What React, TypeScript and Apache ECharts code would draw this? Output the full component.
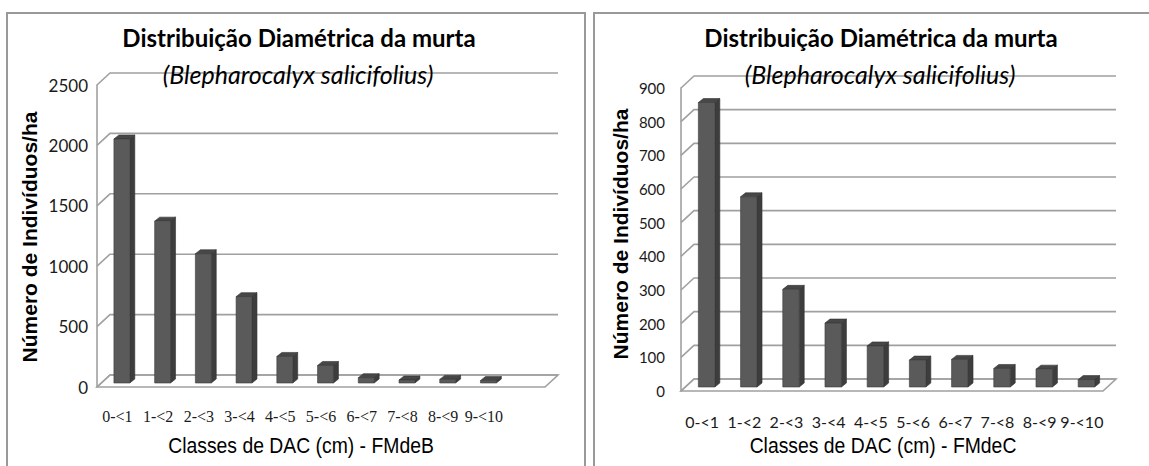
import React, { useEffect, useRef } from 'react';
import * as echarts from 'echarts';

// ---------- data ----------
const categoriesB = ['0-<1', '1-<2', '2-<3', '3-<4', '4-<5', '5-<6', '6-<7', '7-<8', '8-<9', '9-<10', ''];
const valuesB = [2020, 1340, 1070, 715, 220, 145, 44, 25, 30, 20];
const ticksB = [0, 500, 1000, 1500, 2000, 2500];

const categoriesC = ['0-<1', '1-<2', '2-<3', '3-<4', '4-<5', '5-<6', '6-<7', '7-<8', '8-<9', '9-<10'];
const valuesC = [845, 565, 290, 190, 122, 80, 82, 55, 53, 22];
const ticksC = [0, 100, 200, 300, 400, 500, 600, 700, 800, 900];

const titleText = 'Distribuição Diamétrica da murta';
const subtitleText = '(Blepharocalyx salicifolius)';
const yTitle = 'Número de Indivíduos/ha';
const xTitleB = 'Classes de DAC (cm) - FMdeB';
const xTitleC = 'Classes de DAC (cm) - FMdeC';

// ---------- 3D look ----------
const DX = 13;
const DY = 12;
const OX = 4.5;
const OY = 4;
const BD = 5;
const BDY = 4;
const GRID_COLOR = '#a0a0a0';

function wallRender(params: any, api: any) {
  const cs = params.coordSys;
  const v = api.value(1);
  const y = api.coord([0, v])[1];
  const x0 = cs.x;
  const x1 = cs.x + cs.width;
  const children: any[] = [
    {
      type: 'polyline',
      shape: { points: [[x0, y], [x0 + DX, y - DY], [x1 + DX, y - DY]] },
      style: { stroke: GRID_COLOR, lineWidth: 1.6, fill: 'none' },
    },
  ];
  if (v === 0) {
    children.push({
      type: 'polygon',
      shape: { points: [[x0, y], [x0 + DX, y - DY], [x1 + DX, y - DY], [x1, y]] },
      style: { stroke: GRID_COLOR, lineWidth: 1.6, fill: 'none' },
    });
  }
  return { type: 'group', children };
}

function barRender(params: any, api: any) {
  const i = api.value(0);
  const v = api.value(1);
  const base = api.coord([i, 0]);
  const top = api.coord([i, v]);
  const band = api.size([1, 0])[0];
  const bw = band * 0.39;
  const cx = base[0] + OX;
  const xl = cx - bw / 2;
  const xr = cx + bw / 2;
  const yb = base[1] - OY;
  const yt = top[1] - OY;
  return {
    type: 'group',
    children: [
      {
        type: 'polygon',
        shape: { points: [[xr, yt], [xr + BD, yt - BDY], [xr + BD, yb - BDY], [xr, yb]] },
        style: { fill: '#3d3d3d', stroke: '#333', lineWidth: 0.6 },
      },
      {
        type: 'polygon',
        shape: { points: [[xl, yt], [xl + BD, yt - BDY], [xr + BD, yt - BDY], [xr, yt]] },
        style: { fill: '#474747', stroke: '#333', lineWidth: 0.6 },
      },
      {
        type: 'polygon',
        shape: { points: [[xl, yt], [xr, yt], [xr, yb], [xl, yb]] },
        style: { fill: '#5a5a5a', stroke: '#3a3a3a', lineWidth: 0.6 },
      },
    ],
  };
}

export default function App() {
  const ref = useRef<HTMLDivElement>(null);

  useEffect(() => {
    if (!ref.current) return;
    const chart = echarts.init(ref.current, undefined, { renderer: 'svg' });

    const sans = 'Lato, "Open Sans", sans-serif';
    const arial = '"Liberation Sans", Arial, sans-serif';
    const plain = (v: number) => String(v);

    const option: any = {
      animation: false,
      backgroundColor: '#ffffff',
      grid: [
        { left: 97, top: 85, width: 448, height: 302 },
        { left: 681, top: 88, width: 422, height: 303 },
      ],
      xAxis: [
        {
          type: 'category',
          gridIndex: 0,
          data: categoriesB,
          axisLine: { show: false },
          axisTick: { show: false },
          axisLabel: {
            interval: 0,
            margin: 21,
            color: '#1a1a1a',
            fontFamily: '"Liberation Serif", serif',
            fontSize: 16,
          },
        },
        {
          type: 'category',
          gridIndex: 1,
          data: categoriesC,
          axisLine: { show: false },
          axisTick: { show: false },
          axisLabel: {
            interval: 0,
            margin: 22,
            color: '#1a1a1a',
            fontFamily: sans,
            fontSize: 16,
          },
        },
      ],
      yAxis: [
        {
          type: 'value',
          gridIndex: 0,
          min: 0,
          max: 2500,
          interval: 500,
          axisLine: { show: true, lineStyle: { color: GRID_COLOR, width: 1.6 } },
          axisTick: { show: false },
          splitLine: { show: false },
          axisLabel: { margin: 9, color: '#1a1a1a', fontFamily: sans, fontSize: 17, formatter: plain },
        },
        {
          type: 'value',
          gridIndex: 1,
          min: 0,
          max: 900,
          interval: 100,
          axisLine: { show: true, lineStyle: { color: GRID_COLOR, width: 1.6 } },
          axisTick: { show: false },
          splitLine: { show: false },
          axisLabel: { margin: 16, color: '#1a1a1a', fontFamily: sans, fontSize: 15, formatter: plain },
        },
      ],
      series: [
        {
          type: 'custom',
          xAxisIndex: 0,
          yAxisIndex: 0,
          renderItem: wallRender,
          clip: false,
          silent: true,
          z: 1,
          data: ticksB.map((t) => [0, t]),
        },
        {
          type: 'custom',
          xAxisIndex: 0,
          yAxisIndex: 0,
          renderItem: barRender,
          clip: false,
          z: 3,
          data: valuesB.map((v, i) => [i, v]),
        },
        {
          type: 'custom',
          xAxisIndex: 1,
          yAxisIndex: 1,
          renderItem: wallRender,
          clip: false,
          silent: true,
          z: 1,
          data: ticksC.map((t) => [0, t]),
        },
        {
          type: 'custom',
          xAxisIndex: 1,
          yAxisIndex: 1,
          renderItem: barRender,
          clip: false,
          z: 3,
          data: valuesC.map((v, i) => [i, v]),
        },
      ],
      graphic: [
        {
          type: 'rect',
          shape: { x: 7, y: 13, width: 578, height: 480 },
          style: { fill: 'none', stroke: '#999999', lineWidth: 2 },
          silent: true,
        },
        {
          type: 'rect',
          shape: { x: 594, y: 13, width: 600, height: 480 },
          style: { fill: 'none', stroke: '#999999', lineWidth: 2 },
          silent: true,
        },
        {
          type: 'text',
          x: 299,
          y: 37,
          style: { text: titleText, fill: '#000', fontFamily: sans, fontWeight: 'bold', fontSize: 24, align: 'center', verticalAlign: 'middle' },
        },
        {
          type: 'text',
          x: 881,
          y: 37,
          style: { text: titleText, fill: '#000', fontFamily: sans, fontWeight: 'bold', fontSize: 24, align: 'center', verticalAlign: 'middle' },
        },
        {
          type: 'text',
          x: 298,
          y: 74,
          z: 10,
          style: { text: subtitleText, fill: '#000', fontFamily: sans, fontStyle: 'italic', fontSize: 25, align: 'center', verticalAlign: 'middle' },
        },
        {
          type: 'text',
          x: 880,
          y: 74,
          z: 10,
          style: { text: subtitleText, fill: '#000', fontFamily: sans, fontStyle: 'italic', fontSize: 25, align: 'center', verticalAlign: 'middle' },
        },
        {
          type: 'text',
          x: 29,
          y: 237,
          rotation: Math.PI / 2,
          style: { text: yTitle, fill: '#000', fontFamily: arial, fontWeight: 'bold', fontSize: 21, align: 'center', verticalAlign: 'middle' },
        },
        {
          type: 'text',
          x: 620,
          y: 234,
          rotation: Math.PI / 2,
          style: { text: yTitle, fill: '#000', fontFamily: arial, fontWeight: 'bold', fontSize: 21, align: 'center', verticalAlign: 'middle' },
        },
        {
          type: 'text',
          x: 301,
          y: 445,
          scaleX: 0.88,
          style: { text: xTitleB, fill: '#000', fontFamily: arial, fontSize: 22, align: 'center', verticalAlign: 'middle' },
        },
        {
          type: 'text',
          x: 883,
          y: 445,
          scaleX: 0.88,
          style: { text: xTitleC, fill: '#000', fontFamily: arial, fontSize: 22, align: 'center', verticalAlign: 'middle' },
        },
      ],
    };

    chart.setOption(option);
    return () => {
      chart.dispose();
    };
  }, []);

  return (
    <div
      ref={ref}
      style={{ position: 'fixed', left: 0, top: 0, width: 1149, height: 466, background: '#fff' }}
    />
  );
}
